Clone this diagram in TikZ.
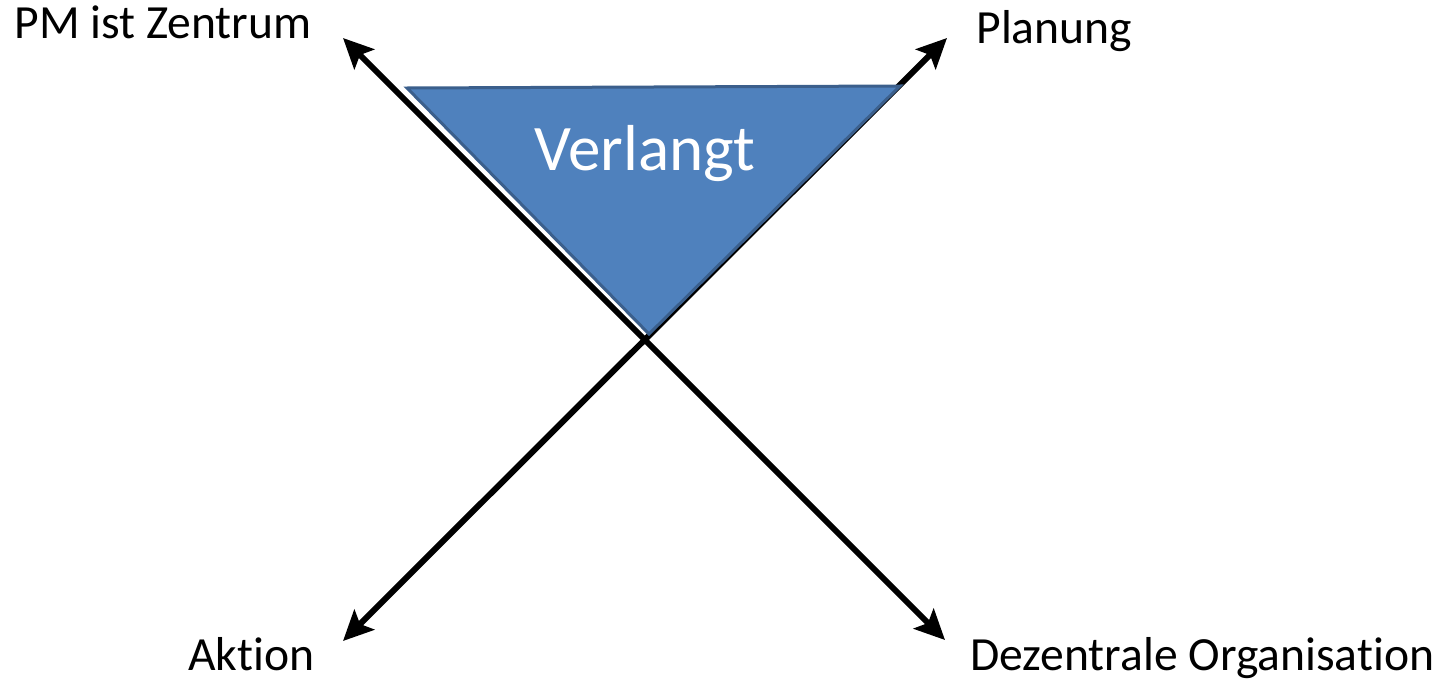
\documentclass[tikz,border=0pt]{standalone}
\usepackage{fontspec}
\setmainfont{Carlito}[Ligatures=NoCommon]
\usepackage{tikz}
\usetikzlibrary{arrows.meta,positioning}
\definecolor{trifill}{HTML}{4F81BD}
\definecolor{triborder}{HTML}{3B5F8C}

\begin{document}
\begin{tikzpicture}[
    x=0.5pt, y=-0.5pt,
    label/.style={anchor=base west, inner sep=0pt, font=\fontsize{23.8}{28}\selectfont},
    title/.style={anchor=base, inner sep=0pt, text=white, font=\fontsize{32.5}{39}\selectfont},
    axis/.style={line width=3pt, {Stealth[length=15pt,width=14pt,inset=3pt]}-{Stealth[length=15pt,width=14pt,inset=3pt]}},
    wedge/.style={fill=trifill, draw=triborder, line width=1.5pt, line join=miter}
]
\useasboundingbox (0,0) rectangle (1445,680);

% Ends of the axes
\coordinate (pm) at (343,38);
\coordinate (plan) at (947,38);
\coordinate (akt) at (343,641);
\coordinate (dez) at (945,640);

% Triangle corners
\coordinate (tl) at (407,88);
\coordinate (tr) at (900,86);
\coordinate (tip) at (649,334);

% Axes
\draw[axis] (akt) -- (plan);
\draw[axis] (pm) -- (dez);

% Triangle
\draw[wedge] (tl) -- (tr) -- (tip) -- cycle;
\node[title] (verlangt) at (645,170) {Verlangt};

% Labels
\node[label] (pmlabel) at (14,38) {PM ist Zentrum};
\node[label] (planlabel) at (976,43) {Planung};
\node[label] (aktlabel) at (188,670) {Aktion};
\node[label] (dezlabel) at (970,670) {Dezentrale Organisation};

\end{tikzpicture}
\end{document}
